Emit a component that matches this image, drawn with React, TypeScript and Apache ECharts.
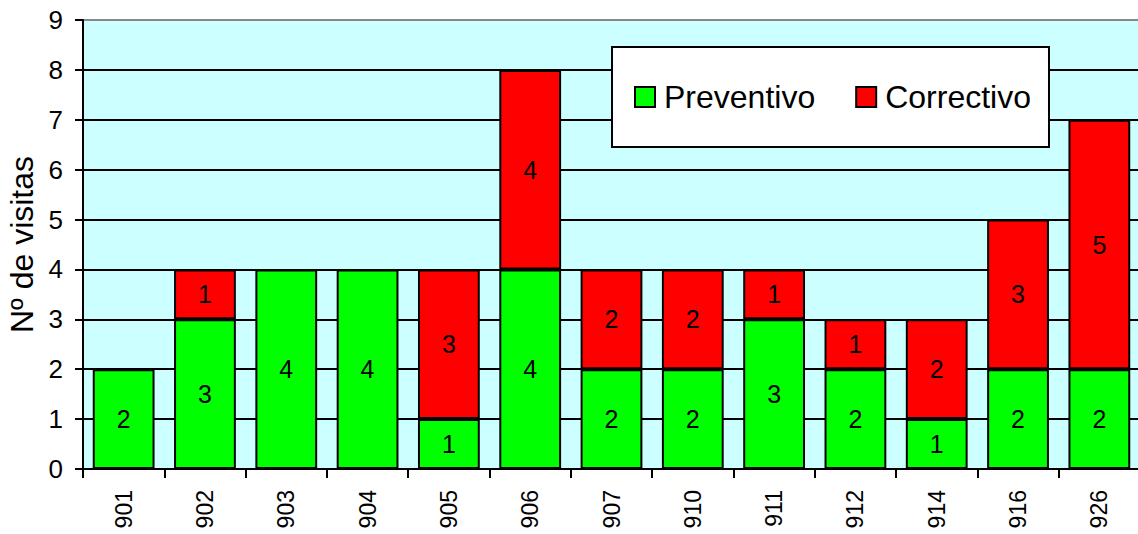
import React, { useEffect, useRef } from "react";
import * as echarts from "echarts";

const categories = ["901", "902", "903", "904", "905", "906", "907", "910", "911", "912", "914", "916", "926"];
const preventivo = [2, 3, 4, 4, 1, 4, 2, 2, 3, 2, 1, 2, 2];
const correctivo = [null, 1, null, null, 3, 4, 2, 2, 1, 1, 2, 3, 5];
const yTicks = { min: 0, max: 9, interval: 1 };

const FONT = "Liberation Sans";

export default function App() {
  const ref = useRef<HTMLDivElement>(null);
  useEffect(() => {
    if (!ref.current) return;
    const chart = echarts.init(ref.current, null, { renderer: "svg" });
    const labelStyle = {
      show: true,
      position: "inside",
      color: "#000",
      fontSize: 25,
      fontFamily: FONT,
    };
    chart.setOption({
      animation: false,
      textStyle: { fontFamily: FONT },
      grid: {
        left: 83,
        top: 20,
        bottom: 65,
        width: 1057,
        containLabel: false,
        outerBoundsMode: "none",
        show: true,
        backgroundColor: "#CCFFFF",
        borderWidth: 0,
      },
      legend: {
        left: 612,
        top: 47,
        padding: [34, 18, 34, 22],
        backgroundColor: "#ffffff",
        borderColor: "#000",
        borderWidth: 2,
        itemWidth: 20,
        itemHeight: 20,
        itemGap: 40,
        icon: "rect",
        textStyle: { fontSize: 32, color: "#000", fontFamily: FONT, padding: [0, 0, 0, 4] },
        data: ["Preventivo", "Correctivo"],
      },
      xAxis: {
        type: "category",
        data: categories,
        axisLine: { lineStyle: { color: "#000", width: 2 } },
        axisTick: { show: true, length: 9, lineStyle: { color: "#000", width: 2 }, alignWithLabel: false },
        axisLabel: { rotate: 90, fontSize: 23, color: "#000", margin: 21, fontFamily: FONT },
      },
      yAxis: {
        type: "value",
        min: yTicks.min,
        max: yTicks.max,
        interval: yTicks.interval,
        name: "Nº de visitas",
        nameLocation: "middle",
        nameRotate: 90,
        nameGap: 44,
        nameTextStyle: { fontSize: 32, color: "#000", fontFamily: FONT },
        axisLine: { show: true, lineStyle: { color: "#000", width: 2 } },
        axisTick: { show: true, length: 8, lineStyle: { color: "#000", width: 2 } },
        axisLabel: { fontSize: 26, color: "#000", margin: 20, fontFamily: FONT },
        splitLine: {
          show: true,
          lineStyle: {
            color: ["#000", "#000", "#000", "#000", "#000", "#000", "#000", "#000", "#000", "#888"],
            width: 2,
          },
        },
      },
      series: [
        {
          name: "Preventivo",
          type: "bar",
          stack: "total",
          data: preventivo,
          barCategoryGap: "24%",
          itemStyle: { color: "#00FF00", borderColor: "#000", borderWidth: 2 },
          label: labelStyle,
        },
        {
          name: "Correctivo",
          type: "bar",
          stack: "total",
          data: correctivo,
          itemStyle: { color: "#FF0000", borderColor: "#000", borderWidth: 2 },
          label: labelStyle,
        },
      ],
    });
    return () => chart.dispose();
  }, []);
  return <div ref={ref} style={{ width: 1138, height: 534, position: "absolute", left: 0, top: 0 }} />;
}
